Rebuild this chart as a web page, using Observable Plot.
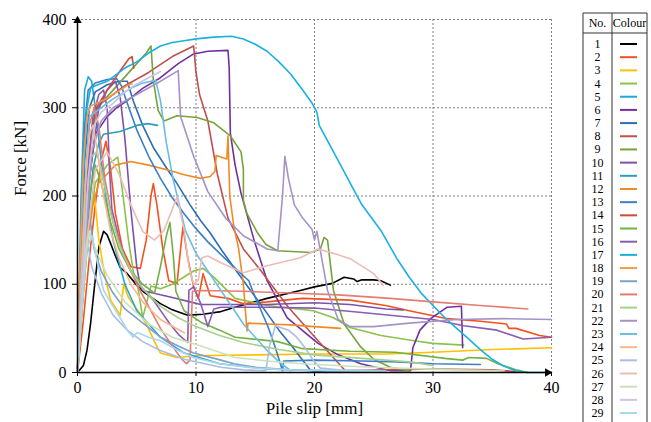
<!DOCTYPE html>
<html><head><meta charset="utf-8">
<script src="https://cdn.jsdelivr.net/npm/d3@7"></script>
<script src="https://cdn.jsdelivr.net/npm/@observablehq/plot@0.6"></script>
<style>
body{margin:0;background:#fff;}
#wrap{position:relative;width:651px;height:422px;overflow:hidden;font-family:'Liberation Serif','Times New Roman',Times,serif;}
#wrap svg text{font-family:'Liberation Serif','Times New Roman',Times,serif;}
#legend{position:absolute;left:0;top:0;}
</style></head>
<body><div id="wrap"></div>
<script>
// ---- data (pile slip [mm], force [kN]) ----
const c1 = [[0,0],[0.5,8],[0.8,25],[1.1,55],[1.4,93],[1.8,142],[2.2,160],[2.5,156],[2.8,146],[3.2,132],[3.6,119],[4.2,112],[5,99],[5.6,91],[7,78],[8,71],[9.3,65],[10.6,66],[12.1,69],[13.3,74],[16,84],[18.8,93],[20,97],[21.5,101],[22.5,108],[23.3,106],[23.6,103],[24,105],[25,105],[25.6,104],[26.4,99]];
const c2 = [[0,0],[0.5,60],[1,130],[1.5,190],[2,240],[2.4,262],[2.8,230],[3.2,180],[3.8,140],[4.5,120],[5.3,118],[5.8,150],[6.2,200],[6.4,214],[6.7,190],[7.2,140],[7.7,104],[8.4,101],[8.7,140],[8.9,165],[9.3,130],[9.8,97],[10.2,84],[10.6,112],[11.2,87],[12.7,84],[14,78],[16,80],[19,84],[23,82],[26,76],[28,70],[31.2,61],[34,58],[36.2,55],[36.4,50],[37,50],[39,42],[40,40]];
const c3 = [[0,0],[0.5,90],[1,170],[1.4,205],[1.8,150],[2.3,110],[2.8,82],[3.6,65],[3.9,100],[4.3,85],[5.1,70],[5.8,55],[6.5,35],[7,22],[8.4,17],[10,19],[15,20],[20,21],[26,21],[30,23],[35,26],[40,28]];
const c4 = [[0,0],[0.8,150],[1.5,215],[2.5,235],[3.4,244],[3.8,205],[4.3,150],[4.7,115],[5.1,96],[5.5,62],[6.2,98],[7,95],[8,100],[9.8,115],[10.6,118],[11.5,108],[13.3,84],[16,76],[19.9,70],[21.6,62],[23,51],[25.6,42],[28.4,36],[30,33],[32.6,31]];
const c5 = [[0,0],[0.3,200],[0.6,320],[0.9,335],[1.2,330],[1.5,300],[2,240],[2.5,190],[3,150],[4,100],[5,70],[7,40],[9,22],[12,10],[16,4],[20,2],[24,1]];
const c6 = [[0,0],[0.5,120],[1,220],[1.5,270],[2.5,290],[3.3,300],[4.2,308],[5.5,322],[7,334],[8.5,350],[9.8,361],[11,364],[12.7,365],[12.8,346],[12.9,271],[13.3,235],[13.8,203],[14.9,150],[16,104],[17.7,62],[20.3,33],[22,20],[23.9,10],[26.4,2],[28.1,2],[28.3,28],[28.9,48],[29.8,61],[31.2,74],[32.4,75],[32.5,28]];
const c7 = [[0,0],[0.3,120],[0.6,240],[1,300],[1.5,318],[2.5,326],[3.5,330],[4.2,330],[4.7,308],[5.5,280],[6.4,255],[7.5,232],[8.4,214],[9.5,190],[10.4,172],[11.2,158],[12.2,138],[13.2,119],[14.5,95],[16,67],[17,48],[18.2,28],[19,14],[19.7,2],[21,0]];
const c8 = [[0,0],[0.5,150],[1,250],[1.5,295],[2,305],[3,315],[4,325],[6,340],[8,358],[9.5,368],[9.8,370],[10,340],[10.3,315],[11,285],[11.8,225],[12.7,175],[14,140],[15.5,115],[16.1,104],[17.8,74],[20.3,36],[22.6,2],[26,3],[30,4],[35,3],[37,1]];
const c9 = [[0,0],[0.4,120],[0.9,230],[1.5,290],[2,305],[3,320],[4,335],[5,350],[5.8,362],[6.2,370],[6.4,331],[6.8,297],[7.3,285],[8.4,291],[10.1,289],[11.5,283],[12.9,268],[13.8,250],[14,230],[14,195],[14.3,180],[15.2,158],[15.9,145],[16.9,138],[19.7,136],[20.5,140],[20.8,153],[21.1,150],[21.6,93],[22.5,55],[23.9,29],[25,15],[26.4,6],[28,2]];
const c10 = [[0,0],[0.5,130],[1,220],[1.8,300],[2.5,320],[3.2,330],[3.6,312],[4,265],[4.5,185],[5,120],[5.3,98],[5.5,93],[7,88],[8,85],[9.5,80],[10.4,77],[13,77],[16,77],[20,79],[23,77],[26,72],[27.5,71]];
const c11 = [[0,0],[0.3,60],[0.8,160],[1.3,230],[1.8,260],[2.2,270],[3.6,273],[5,280],[5.9,282],[6.75,280]];
const c12 = [[0,0],[0.3,60],[0.8,140],[1.3,190],[1.8,215],[2.5,225],[3.2,235],[4.5,239],[6,235],[7.8,229],[9,224],[10.4,220],[11.2,222],[11.6,228],[11.7,246],[12.6,242],[12.7,268],[12.85,200],[13.2,165],[13.6,140],[14,100],[14.3,47],[14.4,56],[16,55],[18,54],[20,52],[22.2,50]];
const c13 = [[0,0],[0.3,150],[0.6,280],[0.9,320],[1.5,328],[2.5,332],[3.3,333],[3.7,325],[4.2,305],[5,275],[6,245],[7,220],[8,198],[9,180],[10,163],[11,148],[12,135],[13,122],[13.8,112],[14.46,104],[15,85],[15.5,70],[16.1,51],[16.7,28],[17.3,2],[17.4,13],[20,14],[24,13],[27,12],[30,10],[34,9]];
const c14 = [[0,0],[0.4,100],[0.8,210],[1.2,275],[1.6,300],[2.5,320],[3.5,340],[4.3,355],[4.6,358],[4.75,345]];
const c15 = [[0,0],[0.5,120],[1,200],[1.5,235],[2,215],[2.8,170],[3.5,140],[4.5,115],[5.5,100],[6.5,90],[7,120],[7.5,155],[7.8,170],[8.1,130],[8.3,92],[9,70],[10.4,57],[12,48],[13.3,40],[16.9,35],[19,27],[23,24],[26.8,23],[31,16],[32.5,14],[33,17],[34.5,16],[35.5,10],[37,3],[38,0]];
const c16 = [[0,0],[0.4,120],[0.8,220],[1.3,290],[1.8,315],[2.2,320],[2.5,300],[2.7,230],[2.9,185],[3.5,152],[4.2,123],[5,103],[6.4,82],[7.8,55],[8.6,42],[9.3,34],[9.4,93],[9.8,97],[10.4,78],[11,52],[11.5,72],[12.1,74],[16,74],[20,73],[24,68],[27,64],[30,60],[32.6,53],[35.4,48],[37.6,38],[40,40]];
const c17 = [[0,0],[0.2,100],[0.5,220],[0.8,300],[1.1,322],[1.5,325],[2.5,330],[4,345],[5,352],[6,362],[7,370],[8,374],[9,376],[10,378],[11.5,380],[13,381],[14,378],[15,372],[16,364],[17,352],[18,338],[19,320],[19.8,305],[20.2,295],[20.4,280],[21,265],[22,240],[23,215],[24,190],[25.6,161],[27,128],[28,108],[29,90],[30,76],[31,62],[32,50],[33,38],[34,26],[35,15],[36,7],[37,2],[38,0],[40,0]];
const c18 = [[0,0],[0.2,120],[0.5,240],[0.8,290],[1.1,302],[2.4,310],[3.6,320],[4.3,326],[4.6,327]];
const c19 = [[0,0],[0.3,100],[0.6,180],[0.8,200],[1.1,170],[1.4,140],[2,115],[3,90],[4,72],[5.6,55],[7,40],[8.5,30],[9.8,22],[12.1,14],[13.2,10],[15,6],[18,3],[22,2],[26,1]];
const c20 = [[0,0],[0.6,200],[1,280],[1.4,300],[1.8,280],[2.3,220],[3,170],[4,130],[5,100],[6,75],[7,50],[8,30],[8.8,15],[9.2,10],[9.5,14],[9.7,92],[10.4,93],[14,92],[18,90],[22,88],[26.4,84],[30,80],[34,76],[38,72]];
const c21 = [[0,0],[0.4,110],[0.8,200],[1.2,245],[1.6,250],[2,230],[2.8,180],[3.5,145],[4.5,115],[5.5,95],[7,75],[8.5,62],[10,52],[12,42],[14,34],[17,26],[20,20],[24,16],[28,12],[30,8]];
const c22 = [[0,0],[0.7,150],[1.2,250],[2,285],[3,300],[5,315],[7,330],[8.5,342],[8.7,290],[9.8,245],[11,205],[12.5,175],[14,155],[16,140],[16.9,138],[17.3,200],[17.5,245],[17.8,220],[18.3,190],[19,175],[19.8,162],[20,150],[20.2,160],[20.6,130],[21.1,93],[22,60],[23,52],[25,52],[28,56],[32,60],[36,61],[40,60]];
const c23 = [[0,0],[0.6,200],[1,290],[2,300],[3,310],[4.5,322],[5.5,328],[6.6,331],[7,308],[7.5,260],[8.1,217],[8.6,190],[9.1,161],[10,135],[11,115],[12,95],[13,75],[14,55],[15,40],[16,25],[17,12],[18,2]];
const c24 = [[0,0],[0.3,100],[0.7,220],[1,270],[1.3,280],[1.7,250],[2.2,200],[2.8,160],[3.5,130],[4.5,100],[5.5,80],[7,60],[9,45]];
const c25 = [[0,0],[0.3,80],[0.5,130],[0.8,150],[1.2,120],[2,90],[3,65],[4.2,48],[5.5,35],[7,25],[9,15],[12.1,6],[14,3],[15.9,2],[16.2,30],[16.7,53],[17.8,48],[18.5,40],[19.2,28],[20,12],[20.5,5],[22,3],[26,2]];
const c26 = [[0,0],[0.8,150],[1.5,230],[2.5,250],[3.5,225],[4.5,190],[5.5,160],[6.5,150],[7.3,161],[8.4,199],[9,161],[9.4,120],[9.8,100],[10.2,105],[10.5,130],[11,132],[12,125],[14,113],[16,121],[18.8,130],[20.3,140],[21.6,135],[23,129],[25,112],[25.8,99]];
const c27 = [[0,0],[0.3,70],[0.6,130],[1,160],[1.5,140],[2.5,110],[4,80],[6,55],[8,40],[10.4,30],[13.3,17],[16,13],[19,10],[23,7],[27,5],[32,3],[36,2]];
const c28 = [[0,0],[0.5,120],[0.9,220],[1.4,280],[2,295],[3,305],[4,318],[5,327],[6,334],[7,341]];
const c29 = [[0,0],[0.4,80],[0.8,140],[1.2,155],[1.6,130],[2.2,93],[3,75],[3.6,62],[4.3,46],[4.7,40],[5,45],[5.3,44],[6,40],[7,36],[8.5,25],[9.8,17],[12,10],[15,5],[18,3],[22,2],[26,1]];

const ids = ["1","2","3","4","5","6","7","8","9","10","11","12","13","14","15","16","17","18","19","20","21","22","23","24","25","26","27","28","29"];
const colours = ["#000000","#f4511e","#ffc000","#8bc34a","#1ea8e0","#7030a0","#2e6db4","#c0504d","#77a33b","#7b52a8","#2b9fb8","#f08a24","#3a7fc8","#d04a3a","#72b043","#8a5cb0","#1ab0e0","#f79a45","#7f9fcc","#e57c74","#a8d08d","#a593c7","#6cbde3","#f9b88c","#a8bfe3","#ecbcb6","#c9e3b9","#cfc2e3","#a9d8ea"];
const xTicks = [0,10,20,30,40];
const yTicks = [0,100,200,300,400];
const xLabel = "Pile slip [mm]";
const yLabel = "Force [kN]";
const headNo = "No.";
const headColour = "Colour";

// ---- build table ----
const series = [c1,c2,c3,c4,c5,c6,c7,c8,c9,c10,c11,c12,c13,c14,c15,c16,c17,c18,c19,c20,c21,c22,c23,c24,c25,c26,c27,c28,c29];
const rows = series.flatMap((s, i) => s.map(([x, y]) => ({id: ids[i], x, y})));

const font = "'Liberation Serif','Times New Roman',Times,serif";
const grid = {stroke: "#808080", strokeOpacity: 1, strokeDasharray: "2,2", strokeWidth: 1};

const chart = Plot.plot({
  width: 651, height: 422,
  marginLeft: 77, marginRight: 100, marginTop: 19, marginBottom: 50,
  style: {fontFamily: font, fontSize: "15px", background: "transparent", color: "#000"},
  x: {domain: [0, 40]},
  y: {domain: [0, 400]},
  color: {type: "ordinal", domain: ids, range: colours},
  marks: [
    Plot.gridX(xTicks.slice(1), grid),
    Plot.gridY(yTicks.slice(1), grid),
    Plot.line(rows, {x: "x", y: "y", z: "id", stroke: "id", strokeWidth: 1.6, strokeLinejoin: "round"}),
    Plot.ruleX([0], {y1: 0, y2: 400, stroke: "#000", strokeWidth: 1.5}),
    Plot.ruleY([0], {x1: 0, x2: 40, stroke: "#000", strokeWidth: 1.5}),
    Plot.dot([0], {x: 0, y: 400, symbol: "triangle2", r: 4, fill: "#000", stroke: null, dy: 1}),
    Plot.dot([0], {x: 40, y: 0, symbol: "triangle2", r: 4, fill: "#000", stroke: null, rotate: 90, dx: -4}),
    Plot.axisX(xTicks, {tickSize: 4, tickPadding: 5, label: null, fontSize: 16}),
    Plot.axisY(yTicks, {tickSize: 5, tickPadding: 6, label: null, fontSize: 16}),
    Plot.text([xLabel], {frameAnchor: "bottom", dy: 41, fontSize: 17}),
    Plot.text([yLabel], {frameAnchor: "left", dx: -57, rotate: -90, fontSize: 17})
  ]
});
const wrap = document.getElementById("wrap");
wrap.appendChild(chart);

// ---- legend table ----
const L = d3.select(wrap).append("svg").attr("id", "legend").attr("width", 651).attr("height", 422)
  .style("font-family", font);
const tLeft = 583, tMid = 612, tRight = 647, tTop = 13, rowY0 = 44, pitch = 13.18;
L.append("line").attr("x1", tLeft).attr("x2", tRight).attr("y1", tTop).attr("y2", tTop).attr("stroke", "#333");
L.append("line").attr("x1", tLeft).attr("x2", tRight).attr("y1", 33).attr("y2", 33).attr("stroke", "#333");
[tLeft, tMid, tRight].forEach(x => L.append("line").attr("x1", x).attr("x2", x).attr("y1", tTop).attr("y2", 422).attr("stroke", "#333"));
L.append("text").attr("x", (tLeft + tMid) / 2).attr("y", 27).attr("text-anchor", "middle").attr("font-size", 12).text(headNo);
L.append("text").attr("x", (tMid + tRight) / 2).attr("y", 27).attr("text-anchor", "middle").attr("font-size", 12).text(headColour);
ids.forEach((id, i) => {
  const cy = rowY0 + i * pitch;
  L.append("text").attr("x", (tLeft + tMid) / 2).attr("y", cy + 4).attr("text-anchor", "middle").attr("font-size", 12).text(id);
  L.append("line").attr("x1", 620).attr("x2", 637).attr("y1", cy).attr("y2", cy).attr("stroke", colours[i]).attr("stroke-width", 2);
});
</script>
</body></html>
